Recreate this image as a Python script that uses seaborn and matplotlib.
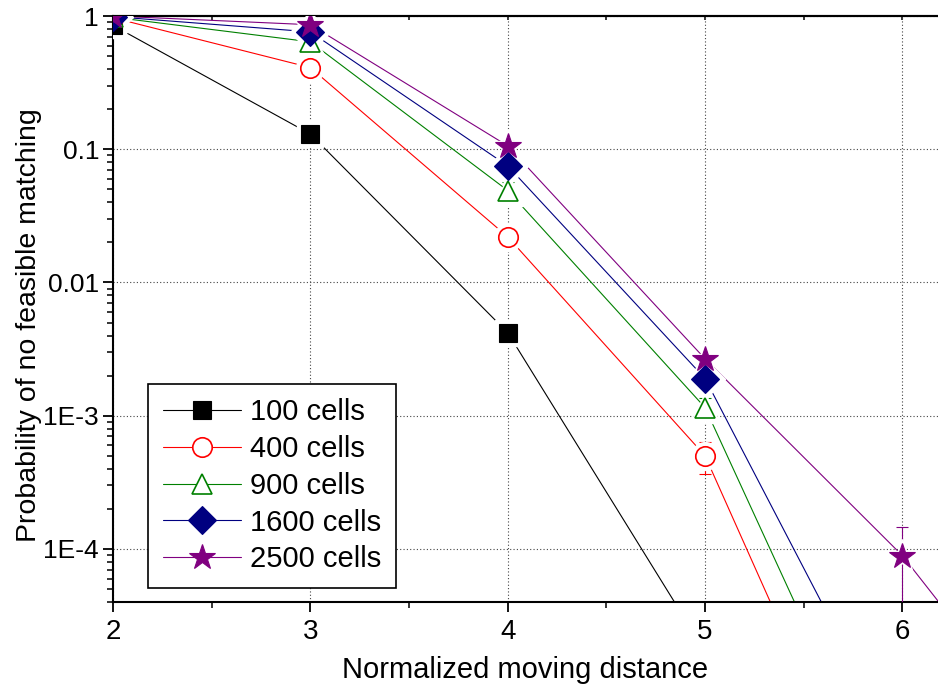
import numpy as np
import pandas as pd
import seaborn as sns
import matplotlib
matplotlib.use("Agg")
import matplotlib.pyplot as plt
from matplotlib.lines import Line2D
from matplotlib.ticker import FixedLocator, FixedFormatter, LogLocator, NullFormatter, MultipleLocator

# data
series_names = ["100 cells", "400 cells", "900 cells", "1600 cells", "2500 cells"]
x_100 = [2, 3, 4, 5]
y_100 = [0.85, 0.13, 0.0042, 1.7e-5]
x_400 = [2, 3, 4, 5, 6]
y_400 = [0.97, 0.41, 0.022, 5.0e-4, 2.4e-7]
err_400 = [np.nan, np.nan, np.nan, 1.35e-4, np.nan]
x_900 = [2, 3, 4, 5, 6]
y_900 = [0.98, 0.64, 0.049, 1.15e-3, 6.9e-7]
err_900 = [np.nan, 0.12, 0.008, 2.1e-4, np.nan]
x_1600 = [2, 3, 4, 5, 6]
y_1600 = [0.99, 0.76, 0.075, 1.9e-3, 2.7e-6]
x_2500 = [2, 3, 4, 5, 6, 7]
y_2500 = [1.0, 0.86, 0.106, 2.67e-3, 8.9e-5, 1.15e-6]
err_2500 = [np.nan, np.nan, 0.01, np.nan, 5.8e-5, np.nan]

y_ticks = [1, 0.1, 0.01, 1e-3, 1e-4]
y_tick_labels = ["1", "0.1", "0.01", "1E-3", "1E-4"]
x_ticks = [2, 3, 4, 5, 6]

colors = ["#000000", "#ff0000", "#008000", "#000080", "#800080"]
markers = ["s", "o", "^", "D", "*"]
msizes = [13, 14, 15, 14, 19]
filled = [True, False, False, True, True]

xs = [x_100, x_400, x_900, x_1600, x_2500]
ys = [y_100, y_400, y_900, y_1600, y_2500]
errs = [None, err_400, err_900, None, err_2500]

rows = []
for name, xv, yv in zip(series_names, xs, ys):
    for a, b in zip(xv, yv):
        rows.append({"series": name, "x": a, "y": b})
df = pd.DataFrame(rows)

sns.set_theme(style="ticks")
plt.rcParams["font.family"] = ["Liberation Sans", "DejaVu Sans"]
plt.rcParams.update({
    "text.color": "black",
    "axes.labelcolor": "black",
    "xtick.color": "black",
    "ytick.color": "black",
    "axes.edgecolor": "black"})

fig = plt.figure(figsize=(9.38, 6.88), dpi=100)
ax = fig.add_axes([113 / 938, 1 - 602 / 688, 1 - 113 / 938, (602 - 16) / 688])

sns.lineplot(data=df, x="x", y="y", hue="series", hue_order=series_names,
             palette=colors, linewidth=0.8, legend=False, ax=ax, zorder=2)

for i, name in enumerate(series_names):
    if errs[i] is not None:
        ax.errorbar(xs[i], ys[i], yerr=errs[i], fmt="none", ecolor=colors[i],
                    elinewidth=0.8, capsize=4, capthick=0.8, zorder=3)
    # white halo so the lines stop short of the markers
    ax.plot(xs[i], ys[i], ls="none", marker=markers[i], ms=msizes[i] + 6,
            mfc="white", mec="white", zorder=4)
    ax.plot(xs[i], ys[i], ls="none", marker=markers[i], ms=msizes[i],
            mfc=colors[i] if filled[i] else "white", mec=colors[i],
            mew=1.2 if not filled[i] else 0.8, zorder=5)

ax.set_yscale("log")
ax.set_xlim(2, 6.18)
ax.set_ylim(4e-5, 1)

ax.yaxis.set_major_locator(FixedLocator(y_ticks))
ax.yaxis.set_major_formatter(FixedFormatter(y_tick_labels))
ax.yaxis.set_minor_locator(LogLocator(base=10, subs=np.arange(2, 10)))
ax.yaxis.set_minor_formatter(NullFormatter())
ax.xaxis.set_major_locator(FixedLocator(x_ticks))
ax.xaxis.set_minor_locator(MultipleLocator(0.5))

ax.grid(True, which="major", color="#444444", linestyle=(0, (1, 2)), linewidth=0.8)
ax.tick_params(axis="both", which="major", direction="out", length=7, width=1.3,
               color="black")
ax.tick_params(axis="both", which="minor", direction="out", length=4, width=1.1)
ax.tick_params(axis="x", which="major", labelsize=20, pad=5)
ax.tick_params(axis="y", which="major", labelsize=19, pad=3)

for side in ["left", "bottom", "top"]:
    ax.spines[side].set_linewidth(1.5)
ax.spines["right"].set_visible(False)

top = ax.secondary_xaxis("top")
top.xaxis.set_major_locator(FixedLocator(x_ticks))
top.xaxis.set_minor_locator(MultipleLocator(0.5))
top.tick_params(which="both", direction="in", length=3, width=1.1, labeltop=False)
top.spines["top"].set_linewidth(1.5)

ax.set_xlabel("Normalized moving distance", fontsize=21, labelpad=8)
ax.set_ylabel("Probability of no feasible matching", fontsize=20.5)
ax.yaxis.set_label_coords(-0.086, 0.473)

handles = []
for i, name in enumerate(series_names):
    handles.append(Line2D([], [], color=colors[i], linewidth=0.8, marker=markers[i],
                          ms=msizes[i], mfc=colors[i] if filled[i] else "white",
                          mec=colors[i], mew=1.2 if not filled[i] else 0.8))
leg = ax.legend(handles, series_names, loc="lower left",
                bbox_to_anchor=(148 / 938, 1 - 588 / 688), bbox_transform=fig.transFigure,
                borderaxespad=0, fontsize=21, handlelength=2.7, handletextpad=0.3,
                labelspacing=0.3, fancybox=False, framealpha=1, edgecolor="black",
                borderpad=0.5)
leg.get_frame().set_linewidth(1.2)

fig.savefig("out.png", dpi=100)
